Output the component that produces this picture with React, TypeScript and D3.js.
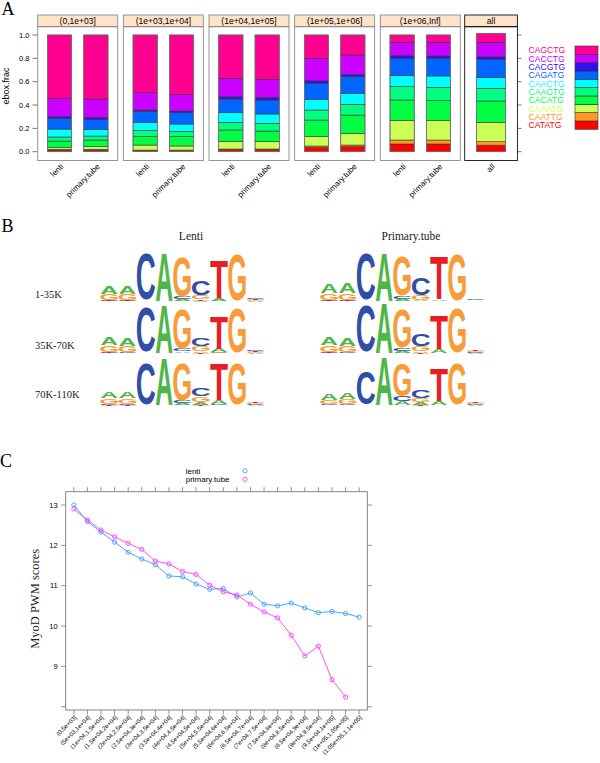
import React from "react";
import * as d3 from "d3";

// ---------------- Panel A data ----------------
const motifs = ["CATATG", "CAATTG", "CAAATG", "CACATG", "CAAGTG", "CAACTG", "CAGATG", "CACGTG", "CACCTG", "CAGCTG"]; // bottom -> top
const motifColors = ["#FF0000", "#FF9922", "#CCFF55", "#00FF44", "#00FF80", "#00FFFF", "#0066FF", "#3311EE", "#CC00FF", "#FF0090"];
const distBins = ["(0,1e+03]", "(1e+03,1e+04]", "(1e+04,1e+05]", "(1e+05,1e+06]", "(1e+06,Inf]"];
const samples = ["lenti", "primary.tube"];
const lentiFrac = [
  [0.014, 0.006, 0.017, 0.054, 0.035, 0.068, 0.092, 0.014, 0.157, 0.543],
  [0.011, 0.003, 0.043, 0.072, 0.052, 0.068, 0.096, 0.012, 0.150, 0.493],
  [0.020, 0.003, 0.063, 0.100, 0.065, 0.083, 0.117, 0.020, 0.158, 0.371],
  [0.037, 0.012, 0.080, 0.142, 0.086, 0.092, 0.137, 0.023, 0.191, 0.200],
  [0.066, 0.034, 0.166, 0.177, 0.114, 0.094, 0.149, 0.023, 0.114, 0.063],
];
const primaryFrac = [
  [0.014, 0.006, 0.023, 0.057, 0.034, 0.057, 0.083, 0.020, 0.157, 0.549],
  [0.011, 0.003, 0.035, 0.080, 0.045, 0.063, 0.097, 0.015, 0.142, 0.509],
  [0.020, 0.003, 0.063, 0.091, 0.066, 0.080, 0.120, 0.023, 0.154, 0.380],
  [0.043, 0.014, 0.100, 0.157, 0.092, 0.094, 0.143, 0.020, 0.166, 0.171],
  [0.066, 0.034, 0.166, 0.171, 0.114, 0.098, 0.151, 0.020, 0.117, 0.063],
];
const allLabel = "all";
const allFrac = [0.055, 0.030, 0.163, 0.180, 0.107, 0.090, 0.155, 0.022, 0.122, 0.076];
const aYTicks = [0, 0.2, 0.4, 0.6, 0.8, 1.0];

// ---------------- Panel B data ----------------
const logoSamples = ["Lenti", "Primary.tube"];
const logoRows = ["1-35K", "35K-70K", "70K-110K"];
const bases = ["A", "C", "G", "T"];
const baseColors: Record<string, string> = { A: "#4FB648", C: "#2F4EA6", G: "#F89C3A", T: "#EC1C24" };
// each position: [A, C, G, T] in bits
const lentiLogo1 = [
  [0.33, 0.03, 0.26, 0.03], [0.33, 0.03, 0.26, 0.03], [0.02, 1.9, 0.02, 0.01], [1.97, 0.01, 0.02, 0.01],
  [0.08, 0.1, 1.67, 0.02], [0.04, 0.6, 0.17, 0.04], [0.1, 0.02, 0.02, 1.56], [0.01, 0.01, 1.9, 0.01],
  [0.03, 0.04, 0.03, 0.03], [0.01, 0.01, 0.01, 0.01],
];
const lentiLogo2 = [
  [0.3, 0.03, 0.27, 0.03], [0.33, 0.03, 0.27, 0.02], [0.02, 1.89, 0.02, 0.01], [1.97, 0.01, 0.02, 0.01],
  [0.06, 0.1, 1.64, 0.02], [0.06, 0.33, 0.2, 0.04], [0.13, 0.03, 0.03, 1.31], [0.01, 0.01, 1.89, 0.01],
  [0.03, 0.04, 0.03, 0.03], [0.01, 0.01, 0.01, 0.01],
];
const lentiLogo3 = [
  [0.27, 0.04, 0.24, 0.03], [0.27, 0.04, 0.24, 0.03], [0.02, 1.68, 0.02, 0.01], [1.89, 0.01, 0.02, 0.01],
  [0.08, 0.1, 1.55, 0.02], [0.1, 0.33, 0.23, 0.04], [0.17, 0.03, 0.02, 1.47], [0.01, 0.01, 1.68, 0.01],
  [0.03, 0.03, 0.03, 0.03], [0.01, 0.01, 0.01, 0.01],
];
const primaryLogo1 = [
  [0.36, 0.03, 0.27, 0.03], [0.4, 0.03, 0.29, 0.03], [0.02, 1.93, 0.02, 0.01], [1.96, 0.01, 0.02, 0.01],
  [0.08, 0.12, 1.63, 0.02], [0.04, 0.73, 0.2, 0.02], [0.07, 0.02, 0.02, 1.73], [0.01, 0.01, 1.91, 0.01],
  [0.02, 0.03, 0.02, 0.02], [0.01, 0.01, 0.01, 0.01],
];
const primaryLogo2 = [
  [0.31, 0.03, 0.27, 0.03], [0.33, 0.03, 0.27, 0.02], [0.02, 1.92, 0.02, 0.01], [2.0, 0.01, 0.02, 0.01],
  [0.08, 0.12, 1.6, 0.02], [0.05, 0.5, 0.2, 0.03], [0.16, 0.02, 0.02, 1.4], [0.01, 0.01, 1.89, 0.01],
  [0.03, 0.03, 0.03, 0.03], [0.01, 0.01, 0.01, 0.01],
];
const primaryLogo3 = [
  [0.27, 0.03, 0.16, 0.02], [0.27, 0.03, 0.2, 0.02], [0.02, 1.4, 0.02, 0.01], [1.97, 0.01, 0.02, 0.01],
  [0.15, 0.2, 1.36, 0.02], [0.1, 0.32, 0.17, 0.03], [0.13, 0.02, 0.02, 1.31], [0.01, 0.01, 1.71, 0.01],
  [0.03, 0.03, 0.03, 0.03], [0.01, 0.01, 0.01, 0.01],
];
const lentiLogos = [lentiLogo1, lentiLogo2, lentiLogo3];
const primaryLogos = [primaryLogo1, primaryLogo2, primaryLogo3];

// ---------------- Panel C data ----------------
const scoreBins = [
  "(0,5e+03]", "(5e+03,1e+04]", "(1e+04,1.5e+04]", "(1.5e+04,2e+04]", "(2e+04,2.5e+04]", "(2.5e+04,3e+04]",
  "(3e+04,3.5e+04]", "(3.5e+04,4e+04]", "(4e+04,4.5e+04]", "(4.5e+04,5e+04]", "(5e+04,5.5e+04]", "(5.5e+04,6e+04]",
  "(6e+04,6.5e+04]", "(6.5e+04,7e+04]", "(7e+04,7.5e+04]", "(7.5e+04,8e+04]", "(8e+04,8.5e+04]", "(8.5e+04,9e+04]",
  "(9e+04,9.5e+04]", "(9.5e+04,1e+05]", "(1e+05,1.05e+05]", "(1.05e+05,1.1e+05]",
];
const lentiScore = [13.0, 12.59, 12.33, 12.08, 11.83, 11.66, 11.52, 11.24, 11.22, 11.04, 10.91, 10.93, 10.72, 10.82, 10.54, 10.5, 10.57, 10.45, 10.33, 10.36, 10.31, 10.22];
const primaryScore: (number | null)[] = [12.9, 12.63, 12.38, 12.21, 12.05, 11.9, 11.61, 11.54, 11.35, 11.28, 11.01, 10.85, 10.77, 10.54, 10.35, 10.2, 9.77, 9.26, 9.5, 8.67, 8.24, null];
const cSeries = ["lenti", "primary.tube"];
const cColors = ["#3d9bff", "#ff3dff"];
const cYTicks = [8, 9, 10, 11, 12, 13];

const SANS = "'Liberation Sans', Arial, Helvetica, sans-serif";
const SERIF = "'Liberation Serif', 'Times New Roman', serif";

// ---------------- Panel A ----------------
function PanelA() {
  const yA = d3.scaleLinear().domain([0, 1]).range([151.7, 35]);
  const yAll = d3.scaleLinear().domain([0, 1]).range([151.7, 33.3]);
  const stripTop = 15, stripBot = 26.7, panelBot = 160.5;
  const panels = [
    ...distBins.map((b, i) => ({
      label: b, cats: samples, data: [lentiFrac[i], primaryFrac[i]],
      x0: 37.7 + i * 85.65, w: 80, frame: "#8a8a8a", y: yA,
    })),
    { label: allLabel, cats: [allLabel], data: [allFrac], x0: 464.7, w: 52.7, frame: "#111", y: yAll },
  ];
  const legendY = d3.scaleBand<number>().domain(d3.range(motifs.length)).range([129.3, 46]);
  return (
    <g>
      <text x={1.5} y={15} fontFamily={SERIF} fontSize={18}>A</text>
      <text transform="translate(9,86) rotate(-90)" textAnchor="middle" fontFamily={SANS} fontSize={9}>ebox.frac</text>
      {aYTicks.map((t) => (
        <g key={t}>
          <line x1={32.5} x2={37.7} y1={yA(t)} y2={yA(t)} stroke="#555" strokeWidth={0.8} />
          <line x1={517.4} x2={521.5} y1={yA(t)} y2={yA(t)} stroke="#555" strokeWidth={0.8} />
          <text x={29.5} y={yA(t)} dy="0.35em" textAnchor="end" fontFamily={SANS} fontSize={7.5}>{t.toFixed(1)}</text>
        </g>
      ))}
      {panels.map((p, pi) => {
        const xs = d3.scaleLinear().domain([0.4, p.cats.length + 0.6]).range([p.x0, p.x0 + p.w]);
        const bw = ((xs(1) - xs(0)) * 2) / 3;
        return (
          <g key={pi}>
            <rect x={p.x0} y={stripTop} width={p.w} height={stripBot - stripTop} fill="#FFE3C9" stroke={p.frame} strokeWidth={0.9} />
            <text x={p.x0 + p.w / 2} y={(stripTop + stripBot) / 2} dy="0.35em" textAnchor="middle" fontFamily={SANS} fontSize={8.5}>{p.label}</text>
            <rect x={p.x0} y={stripBot} width={p.w} height={panelBot - stripBot} fill="none" stroke={p.frame} strokeWidth={0.9} />
            {p.cats.map((c, ci) => {
              const vals = p.data[ci];
              const cum = Array.from(d3.cumsum(vals));
              const cx = xs(ci + 1);
              return (
                <g key={c}>
                  {vals.map((v, k) => (
                    <rect key={k} x={cx - bw / 2} width={bw} y={p.y(cum[k])} height={p.y(cum[k] - v) - p.y(cum[k])}
                      fill={motifColors[k]} stroke="#3a3a3a" strokeWidth={0.6} />
                  ))}
                  <rect x={cx - bw / 2} width={bw} y={p.y(cum[cum.length - 1])} height={p.y(0) - p.y(cum[cum.length - 1])}
                    fill="none" stroke="#777" strokeWidth={0.7} />
                  <text transform={`translate(${cx + 2.5},${panelBot + 4.5}) rotate(-45)`} dy="0.35em" textAnchor="end" fontFamily={SANS} fontSize={8}>{c}</text>
                </g>
              );
            })}
          </g>
        );
      })}
      {motifs.map((m, k) => (
        <g key={m}>
          <text x={528.5} y={legendY(k)! + legendY.bandwidth() / 2} dy="0.36em" fontFamily={SANS} fontSize={8.6} fill={motifColors[k]}>{m}</text>
          <rect x={575} y={legendY(k)!} width={23} height={legendY.bandwidth()} fill={motifColors[k]} stroke="#333" strokeWidth={0.6} />
        </g>
      ))}
    </g>
  );
}

// ---------------- Panel B ----------------
const FS = 10;
const inkW: Record<string, number> = { A: 0.72, C: 0.64, G: 0.69, T: 0.6 };
const inkH: Record<string, number> = { A: 0.716, C: 0.742, G: 0.742, T: 0.716 };
const inkB: Record<string, number> = { A: 0, C: 0.013, G: 0.013, T: 0 };

function Logo({ data, x0, baseline }: { data: number[][]; x0: number; baseline: number }) {
  const xb = d3.scaleBand<number>().domain(d3.range(data.length)).range([x0, x0 + 183]);
  const yb = d3.scaleLinear().domain([0, 2]).range([baseline, baseline - 50]);
  const w = xb.bandwidth() * 0.97;
  const letters: React.ReactNode[] = [];
  data.forEach((pos, i) => {
    const order = bases.map((b, j) => ({ b, v: pos[j] })).sort((a, c) => a.v - c.v);
    let acc = 0;
    order.forEach(({ b, v }) => {
      const yBot = yb(acc);
      const yTop = yb(acc + v);
      acc += v;
      const h = yBot - yTop;
      if (h < 0.7) return;
      const cx = xb(i)! + xb.bandwidth() / 2;
      const sx = w / (inkW[b] * FS);
      const sy = h / (inkH[b] * FS);
      letters.push(
        <text key={`${i}-${b}`} transform={`translate(${cx},${yBot}) scale(${sx},${sy})`} y={-inkB[b] * FS}
          textAnchor="middle" fontFamily={SANS} fontWeight="bold" fontSize={FS} fill={baseColors[b]}>{b}</text>
      );
    });
  });
  return <g>{letters}</g>;
}

function PanelB() {
  const baselines = [301.5, 353.5, 405.5];
  const colX = [100, 320];
  const labelBase = [298, 348.5, 398];
  return (
    <g>
      <text x={1.5} y={232} fontFamily={SERIF} fontSize={18}>B</text>
      {logoSamples.map((s, i) => (
        <text key={s} x={colX[i] + 91} y={240} textAnchor="middle" fontFamily={SERIF} fontSize={11.5} fill="#222">{s}</text>
      ))}
      {logoRows.map((r, i) => (
        <text key={r} x={35} y={labelBase[i]} fontFamily={SERIF} fontSize={10.5} fill="#222">{r}</text>
      ))}
      {lentiLogos.map((d, i) => <Logo key={`l${i}`} data={d} x0={colX[0]} baseline={baselines[i]} />)}
      {primaryLogos.map((d, i) => <Logo key={`p${i}`} data={d} x0={colX[1]} baseline={baselines[i]} />)}
    </g>
  );
}

// ---------------- Panel C ----------------
function PanelC() {
  const left = 65.7, right = 367.3, top = 491.7, bottom = 710;
  const x = d3.scaleLinear().domain([0.4, scoreBins.length + 0.6]).range([left, right]);
  const y = d3.scaleLinear().domain([8, 13]).range([706.7, 505]);
  const series = [lentiScore, primaryScore];
  const line = d3.line<number | null>()
    .defined((d) => d != null)
    .x((_, i) => x(i + 1))
    .y((d) => y(d as number));
  return (
    <g>
      <text x={0} y={467} fontFamily={SERIF} fontSize={18}>C</text>
      <rect x={left} y={top} width={right - left} height={bottom - top} fill="none" stroke="#777" strokeWidth={0.9} />
      {cYTicks.map((t) => (
        <g key={t}>
          <line x1={left - 4.5} x2={left} y1={y(t)} y2={y(t)} stroke="#777" strokeWidth={0.8} />
          <line x1={right} x2={right + 4.5} y1={y(t)} y2={y(t)} stroke="#777" strokeWidth={0.8} />
          {t > 8 && (
            <text x={left - 8} y={y(t)} dy="0.35em" textAnchor="end" fontFamily={SANS} fontSize={7.5}>{t}</text>
          )}
        </g>
      ))}
      {scoreBins.map((b, i) => (
        <g key={b}>
          <line x1={x(i + 1)} x2={x(i + 1)} y1={bottom} y2={bottom + 4.5} stroke="#777" strokeWidth={0.8} />
          <line x1={x(i + 1)} x2={x(i + 1)} y1={top - 4.5} y2={top} stroke="#777" strokeWidth={0.8} />
          <text transform={`translate(${x(i + 1) + 1.5},${bottom + 6.5}) rotate(-45)`} dy="0.35em" textAnchor="end" fontFamily={SANS} fontSize={6}>{b}</text>
        </g>
      ))}
      {series.map((s, si) => (
        <g key={si}>
          <path d={line(s) || ""} fill="none" stroke={cColors[si]} strokeWidth={0.9} />
          {s.map((v, i) => v == null ? null : (
            <circle key={i} cx={x(i + 1)} cy={y(v)} r={2.1} fill="none" stroke={cColors[si]} strokeWidth={0.9} />
          ))}
        </g>
      ))}
      <text transform={`translate(38.5,${(top + bottom) / 2 - 2}) rotate(-90)`} textAnchor="middle" fontFamily={SERIF} fontSize={12.5} fill="#222">MyoD PWM scores</text>
      {cSeries.map((s, i) => (
        <g key={s}>
          <text x={185.7} y={473.5 + i * 8.5} fontFamily={SANS} fontSize={8}>{s}</text>
          <circle cx={245} cy={470.8 + i * 8.5} r={2.1} fill="none" stroke={cColors[i]} strokeWidth={0.9} />
        </g>
      ))}
    </g>
  );
}

export default function App() {
  return (
    <svg width={600} height={763} viewBox="0 0 600 763" style={{ position: "absolute", left: 0, top: 0, background: "#fff" }}>
      <rect x={0} y={0} width={600} height={763} fill="#fff" />
      <PanelA />
      <PanelB />
      <PanelC />
    </svg>
  );
}
